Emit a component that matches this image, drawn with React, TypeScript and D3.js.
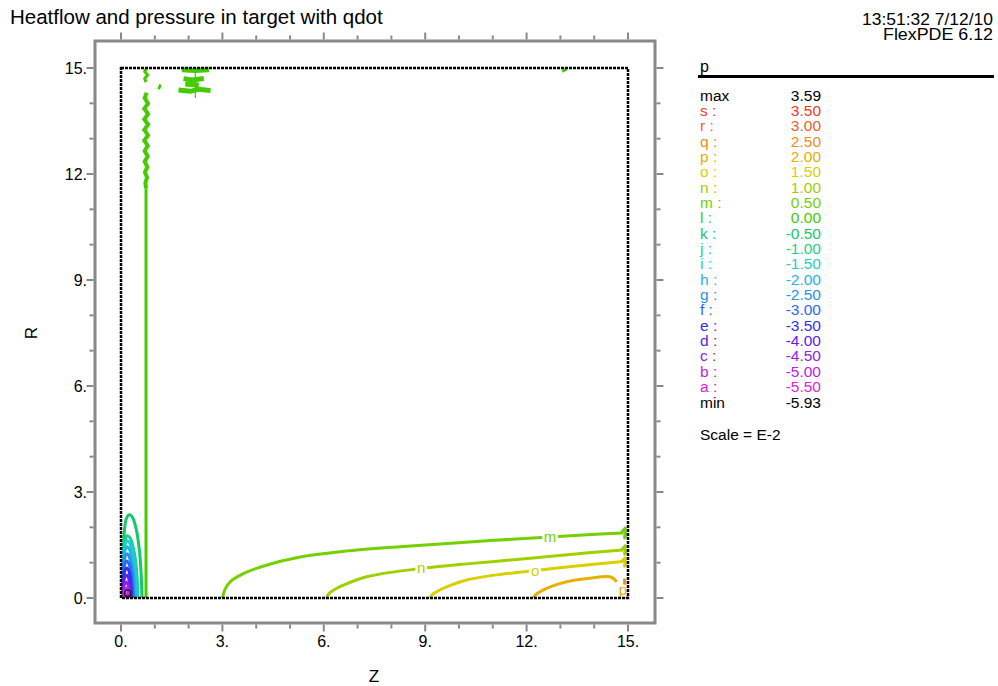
import React from "react";
import * as d3 from "d3";

// ---------- data ----------
const levelLetters = ["s","r","q","p","o","n","m","l","k","j","i","h","g","f","e","d","c","b","a"];
const levelValues = ["3.50","3.00","2.50","2.00","1.50","1.00","0.50","0.00","-0.50","-1.00","-1.50","-2.00","-2.50","-3.00","-3.50","-4.00","-4.50","-5.00","-5.50"];
const levelColors = ["#ef3b24","#f0602a","#ef8c2a","#e8b000","#d8d000","#a0d000","#74d000","#44cc00","#14c86c","#1cd090","#1cd0c8","#20b4f0","#2890f0","#2a6af0","#3030f0","#6020f0","#9020f0","#c020f0","#e020e0"];
const maxValue = "3.59";
const minValue = "-5.93";
const xTicks = [0, 3, 6, 9, 12, 15];
const yTicks = [0, 3, 6, 9, 12, 15];
const minorTicks = d3.range(0, 16);

// contour polylines [z, r]
const contourM = [[3.0,0],[3.08,0.25],[3.25,0.48],[3.6,0.68],[4.2,0.9],[5.3,1.16],[6.6,1.32],[8.25,1.45],[10.2,1.58],[12.2,1.70],[13.8,1.79],[14.85,1.84]];
const contourN = [[6.08,0],[6.15,0.12],[6.27,0.21],[6.48,0.32],[7.27,0.6],[8.65,0.81],[10.4,0.98],[12.19,1.13],[13.6,1.26],[14.85,1.36]];
const contourO = [[9.14,0],[9.22,0.1],[9.44,0.23],[9.8,0.38],[10.23,0.51],[11.0,0.64],[12.0,0.75],[13.4,0.9],[14.85,1.03]];
const contourP = [[12.2,0],[12.28,0.1],[12.5,0.23],[12.8,0.35],[13.19,0.46],[13.8,0.55],[14.47,0.6],[14.67,0.46]];
const contourQ = [[14.9,0],[14.9,0.55]];
const contourR = [[14.94,0],[14.94,0.3]];
const contourS = [[14.97,0],[14.97,0.12]];
const wallM = [[14.8,1.84],[14.92,1.98],[14.9,1.7],[15,1.84]];
const wallN = [[14.8,1.36],[14.92,1.48],[14.9,1.24],[15,1.36]];
const wallO = [[14.8,1.03],[14.92,1.14],[14.9,0.9],[15,1.03]];

const contourLSmooth = [[0.74,0],[0.74,11.6]];
const contourLJag = [[0.74,11.6],[0.72,11.75],[0.77,11.9],[0.71,12.05],[0.78,12.2],[0.7,12.35],[0.79,12.5],[0.7,12.65],[0.79,12.8],[0.69,12.95],[0.8,13.1],[0.69,13.25],[0.8,13.4],[0.69,13.55],[0.8,13.7],[0.69,13.85],[0.8,14.0],[0.7,14.15],[0.76,14.3]];
const contourLTop = [[0.74,14.6],[0.7,14.7],[0.79,14.8],[0.7,14.9],[0.76,15]];
const blobs = [
  [[1.8,14.95],[2.2,14.93],[2.6,14.95]],
  [[1.85,14.7],[2.1,14.66],[2.45,14.7]],
  [[1.7,14.38],[2.05,14.34],[2.3,14.4],[2.65,14.36]],
  [[1.9,14.55],[2.3,14.52]],
  [[1.1,14.48],[1.18,14.45]],
  [[13.1,14.97],[13.14,14.9]],
];
const blobThin = [[2.2,15],[2.2,14.15]];

const contourK = [[0.07,0],[0.07,1.2],[0.10,1.9],[0.16,2.25],[0.24,2.36],[0.34,2.28],[0.45,1.95],[0.55,1.3],[0.6,0.6],[0.62,0]];
const contourJ = [[0.07,0],[0.07,1.2],[0.11,1.6],[0.18,1.76],[0.27,1.7],[0.38,1.35],[0.46,0.8],[0.5,0]];
const contourI = [[0.07,0],[0.07,1.1],[0.11,1.48],[0.18,1.62],[0.26,1.56],[0.35,1.2],[0.42,0.7],[0.45,0]];
const contourH = [[0.07,0],[0.07,1.0],[0.11,1.32],[0.18,1.45],[0.25,1.38],[0.33,1.05],[0.39,0.6],[0.42,0]];
const contourG = [[0.07,0],[0.07,0.85],[0.11,1.13],[0.18,1.25],[0.24,1.18],[0.31,0.9],[0.36,0.5],[0.38,0]];
const contourF = [[0.07,0],[0.07,0.7],[0.11,0.95],[0.17,1.05],[0.23,0.98],[0.29,0.75],[0.33,0.4],[0.35,0]];
const contourE = [[0.07,0],[0.07,0.55],[0.11,0.76],[0.17,0.85],[0.22,0.8],[0.27,0.6],[0.3,0.3],[0.32,0]];
const contourD = [[0.07,0],[0.07,0.4],[0.11,0.58],[0.16,0.65],[0.21,0.6],[0.25,0.45],[0.28,0.2],[0.29,0]];
const contourC = [[0.08,0],[0.08,0.28],[0.11,0.4],[0.16,0.45],[0.2,0.4],[0.23,0.3],[0.25,0.12],[0.26,0]];
const contourB = [[0.09,0],[0.09,0.16],[0.12,0.25],[0.16,0.28],[0.19,0.25],[0.21,0.16],[0.22,0]];
const contourA = [[0.12,0],[0.12,0.07],[0.15,0.12],[0.18,0.07],[0.19,0]];

const labelLetters = ["m","n","o","p"];
const labelZ = [12.69, 8.88, 12.25, 14.85];
const labelR = [1.73, 0.84, 0.76, 0.23];
const minMarker = [0.2, 0.08];

const colorOf = (l: string) => levelColors[levelLetters.indexOf(l)];

export default function App() {
  const x = d3.scaleLinear().domain([0, 15]).range([121, 628]);
  const y = d3.scaleLinear().domain([0, 15]).range([598, 68]);
  const smooth = d3.line<number[]>().x(d => x(d[0])).y(d => y(d[1])).curve(d3.curveCatmullRom.alpha(0.5));
  const straight = d3.line<number[]>().x(d => x(d[0])).y(d => y(d[1]));

  const fL = 95, fR = 655, fT = 41, fB = 623;
  const font = "'Liberation Sans', Arial, sans-serif";

  const smoothContours: [number[][], string][] = [
    [contourK, "k"], [contourJ, "j"], [contourI, "i"], [contourH, "h"], [contourG, "g"],
    [contourF, "f"], [contourE, "e"], [contourD, "d"], [contourC, "c"], [contourB, "b"], [contourA, "a"],
    [contourM, "m"], [contourN, "n"], [contourO, "o"], [contourP, "p"],
  ];
  const straightContours: [number[][], string][] = [
    [contourQ, "q"], [contourR, "r"], [contourS, "s"], [wallM, "m"], [wallN, "n"], [wallO, "o"],
    [contourLSmooth, "l"], [contourLTop, "l"],
  ];

  const legendTop = 100.5;
  const rowH = 15.35;
  const lf = 15.5;

  return (
    <svg width={998} height={686} style={{ position: "absolute", left: 0, top: 0, background: "#fff" }} fontFamily={font}>
      <rect x={0} y={0} width={998} height={686} fill="#fff" />
      {/* title */}
      <text x={10} y={24} fontSize={20.5} fill="#000">Heatflow and pressure in target with qdot</text>
      <text x={993} y={24.5} fontSize={16} textAnchor="end" fill="#000" textLength={131} lengthAdjust="spacingAndGlyphs">13:51:32 7/12/10</text>
      <text x={993} y={40} fontSize={16} textAnchor="end" fill="#000" textLength={110} lengthAdjust="spacingAndGlyphs">FlexPDE 6.12</text>

      {/* outer frame */}
      <rect x={fL} y={fT} width={fR - fL} height={fB - fT} fill="none" stroke="#888" strokeWidth={3} />
      {minorTicks.map(t => {
        const major = t % 3 === 0;
        const len = major ? 7 : 4;
        return (
          <g key={"t" + t} stroke="#888" strokeWidth={2}>
            <line x1={x(t)} x2={x(t)} y1={fB + 1.5} y2={fB + 1.5 + len} />
            <line x1={x(t)} x2={x(t)} y1={fT - 1.5} y2={fT - 1.5 - len} />
            <line y1={y(t)} y2={y(t)} x1={fL - 1.5} x2={fL - 1.5 - len} />
            <line y1={y(t)} y2={y(t)} x1={fR + 1.5} x2={fR + 1.5 + len} />
          </g>
        );
      })}
      {xTicks.map(t => (
        <text key={"xl" + t} x={x(t)} y={647} fontSize={16} textAnchor="middle" fill="#000">{t + "."}</text>
      ))}
      {yTicks.map(t => (
        <text key={"yl" + t} x={87} y={y(t) + 5.5} fontSize={16} textAnchor="end" fill="#000">{t + "."}</text>
      ))}
      <text x={374} y={682} fontSize={17} textAnchor="middle" fill="#000">Z</text>
      <text transform={`translate(37,333) rotate(-90)`} fontSize={17} textAnchor="middle" fill="#000">R</text>

      {/* contours */}
      {smoothContours.map(([pts, l], i) => (
        <path key={"sc" + i} d={smooth(pts) || ""} fill="none" stroke={colorOf(l)} strokeWidth={3} strokeLinejoin="round" />
      ))}
      {straightContours.map(([pts, l], i) => (
        <path key={"st" + i} d={straight(pts) || ""} fill="none" stroke={colorOf(l)} strokeWidth={3} strokeLinejoin="round" />
      ))}
      <path d={straight(contourLJag) || ""} fill="none" stroke={colorOf("l")} strokeWidth={4} strokeLinejoin="miter" />
      {blobs.map((pts, i) => (
        <path key={"bl" + i} d={straight(pts) || ""} fill="none" stroke={colorOf("l")} strokeWidth={5} strokeLinejoin="round" />
      ))}
      <path d={straight(blobThin) || ""} fill="none" stroke={colorOf("l")} strokeWidth={1.2} />
      {labelLetters.map((l, i) => (
        <text key={"lb" + l} x={x(labelZ[i])} y={y(labelR[i]) + 5} fontSize={15} textAnchor="middle"
          fill={colorOf(l)} stroke="#fff" strokeWidth={5} paintOrder="stroke">{l}</text>
      ))}
      <circle cx={x(minMarker[0])} cy={y(minMarker[1]) - 2} r={3.2} fill="none" stroke="#222" strokeWidth={1.5} />

      {/* domain boundary */}
      <rect x={x(0)} y={y(15)} width={x(15) - x(0)} height={y(0) - y(15)} fill="none" stroke="#000" strokeWidth={2.5} strokeDasharray="3 1" />

      {/* legend */}
      <text x={700} y={72} fontSize={16} fill="#000">p</text>
      <line x1={698} x2={994} y1={76.5} y2={76.5} stroke="#000" strokeWidth={3} />
      <text x={700} y={legendTop} fontSize={lf} fill="#000">max</text>
      <text x={821} y={legendTop} fontSize={lf} textAnchor="end" fill="#000">{maxValue}</text>
      {levelLetters.map((l, i) => (
        <g key={"lg" + l} fill={levelColors[i]} fontSize={lf}>
          <text x={700} y={legendTop + rowH * (i + 1)}>{l + " :"}</text>
          <text x={821} y={legendTop + rowH * (i + 1)} textAnchor="end">{levelValues[i]}</text>
        </g>
      ))}
      <text x={700} y={legendTop + rowH * 20} fontSize={lf} fill="#000">min</text>
      <text x={821} y={legendTop + rowH * 20} fontSize={lf} textAnchor="end" fill="#000">{minValue}</text>
      <text x={700} y={440} fontSize={lf} fill="#000">Scale = E-2</text>
    </svg>
  );
}
